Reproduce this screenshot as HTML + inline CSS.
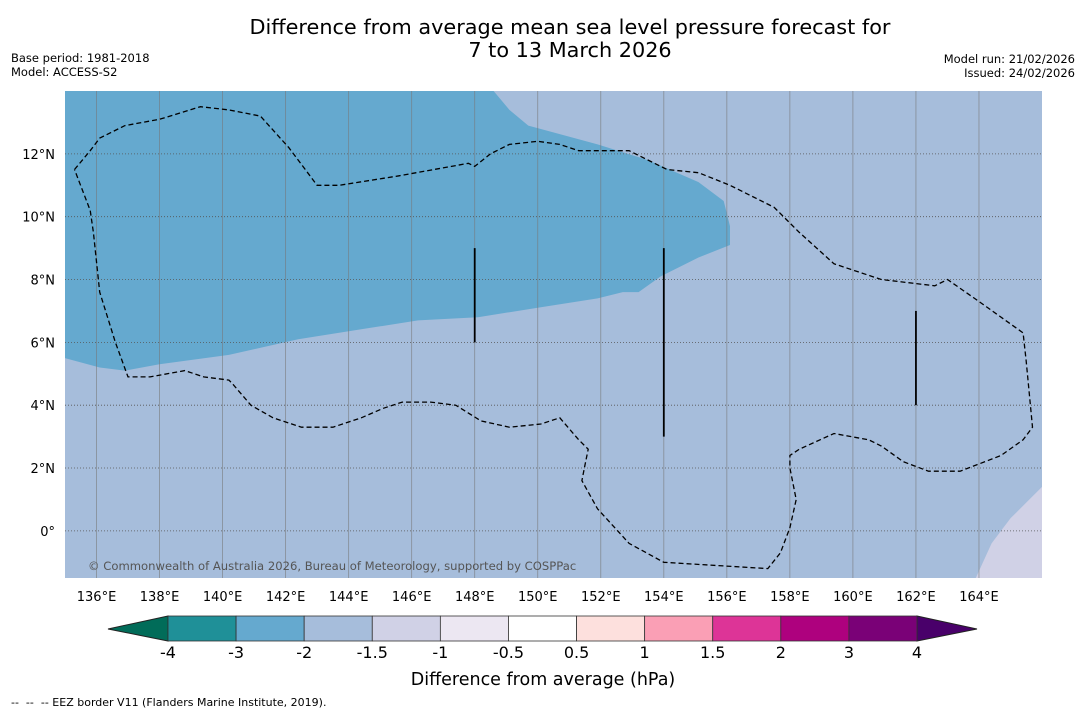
<!DOCTYPE html>
<html><head><meta charset="utf-8"><style>
body{margin:0;background:#fff;width:1085px;height:713px;overflow:hidden;font-family:"DejaVu Sans","Liberation Sans",sans-serif}
svg{display:block}
text{white-space:pre}
</style></head><body>
<svg id="c" width="1085" height="713" xmlns="http://www.w3.org/2000/svg">
<text x="570" y="34" font-size="20.8" text-anchor="middle">Difference from average mean sea level pressure forecast for</text>
<text x="570" y="57" font-size="20.8" text-anchor="middle">7 to 13 March 2026</text>
<text x="11" y="62" font-size="11.5">Base period: 1981-2018</text>
<text x="11" y="76" font-size="11.5">Model: ACCESS-S2</text>
<text x="1075" y="63" font-size="11.5" text-anchor="end">Model run: 21/02/2026</text>
<text x="1075" y="77" font-size="11.5" text-anchor="end">Issued: 24/02/2026</text>
<g id="map"></g>
<g id="cb"></g>
<text x="543" y="685" font-size="17.5" text-anchor="middle">Difference from average (hPa)</text>
<text x="11" y="706" font-size="11">--  --  -- EEZ border V11 (Flanders Marine Institute, 2019).</text>
</svg>
<script>
const lonTicks=[136,138,140,142,144,146,148,150,152,154,156,158,160,162,164];
const latTicks=[0,2,4,6,8,10,12];
const cbLevels=["-4","-3","-2","-1.5","-1","-0.5","0.5","1","1.5","2","3","4"];
const cbColors=["#1f9098","#65a9cf","#a6bddb","#d0d1e6","#ece7f2","#ffffff","#fde0dd","#fa9fb5","#dd3497","#ae017e","#7a0177"];
const blueRegion=[[135,14],[148.6,14],[149.1,13.4],[149.7,12.9],[151.9,12.3],[153.5,11.8],[155.1,11.1],[155.9,10.5],[156.1,9.7],[156.1,9.1],[155.1,8.7],[153.9,8.1],[153.2,7.6],[152.7,7.6],[151.9,7.4],[150,7.1],[148.1,6.8],[146.2,6.7],[144.3,6.4],[142.4,6.1],[140.2,5.6],[138,5.3],[136.9,5.1],[136.1,5.2],[135,5.5]];
const lavRegion=[[166,1.4],[165,0.4],[164.4,-0.4],[163.9,-1.5],[166,-1.5]];
const eez=[[135.3,11.5],[135.8,12.1],[136.1,12.5],[136.9,12.9],[138,13.1],[139.3,13.5],[140.2,13.4],[141.2,13.2],[142.1,12.2],[143,11],[143.7,11],[145.6,11.3],[147.8,11.7],[148,11.6],[148.5,12],[149.1,12.3],[150,12.4],[150.7,12.3],[151.3,12.1],[151.9,12.1],[152.9,12.1],[154.1,11.5],[155.1,11.4],[156.1,11],[157.5,10.3],[158.3,9.5],[159.4,8.5],[160.9,8],[162.6,7.8],[163,8],[164,7.3],[165.4,6.3],[165.5,5.4],[165.7,3.3],[165.4,2.9],[164.7,2.4],[163.4,1.9],[162.4,1.9],[161.6,2.2],[160.9,2.7],[160.5,2.9],[159.4,3.1],[158.3,2.6],[158,2.4],[158,2],[158.2,1],[158,0.1],[157.7,-0.7],[157.3,-1.2],[154,-1],[152.9,-0.4],[151.9,0.7],[151.4,1.6],[151.5,2.1],[151.6,2.6],[151.3,2.9],[150.7,3.6],[150.1,3.4],[149.1,3.3],[148.2,3.5],[147.4,4],[146.6,4.1],[145.7,4.1],[145.1,3.9],[144.4,3.6],[143.5,3.3],[142.5,3.3],[141.6,3.6],[140.9,4],[140.3,4.7],[140.2,4.8],[139.4,4.9],[138.8,5.1],[137.7,4.9],[137,4.9],[136.6,6],[136.1,7.6],[135.9,9.5],[135.8,10.2],[135.3,11.5]];
const boundaryLines=[[148,9,6],[154,9,3],[162,7,4]];
const X0=65,X1=1042,Y0=91,Y1=578,LON0=135,LON1=166,LAT0=-1.5,LAT1=14;
const xs=l=>X0+(l-LON0)/(LON1-LON0)*(X1-X0);
const ys=l=>Y0+(LAT1-l)/(LAT1-LAT0)*(Y1-Y0);
const NS="http://www.w3.org/2000/svg";
function mk(p,t,a){const e=document.createElementNS(NS,t);for(const k in a)e.setAttribute(k,a[k]);p.appendChild(e);return e;}
const map=document.getElementById('map');
let r=mk(map,'rect',{x:X0,y:Y0,width:X1-X0,height:Y1-Y0,fill:'#a6bddb'});


const pts=a=>a.map(p=>xs(p[0]).toFixed(1)+','+ys(p[1]).toFixed(1)).join(' ');
let b=mk(map,'polygon',{points:pts(blueRegion),fill:'#65a9cf'});


let lv=mk(map,'polygon',{points:pts(lavRegion),fill:'#d0d1e6'});


lonTicks.forEach(l=>{
 let g=mk(map,'line',{x1:xs(l),x2:xs(l),y1:Y0,y2:Y1,stroke:'#777',"stroke-width":0.8,opacity:0.7});
 
 
 let t=mk(map,'text',{x:xs(l),y:601,"font-size":13,"text-anchor":"middle"});t.textContent=l+'°E';
 
 
});
latTicks.forEach(l=>{
 let g=mk(map,'line',{x1:X0,x2:X1,y1:ys(l),y2:ys(l),stroke:'#555',"stroke-width":0.8,"stroke-dasharray":"1,2"});
 
 
 let t=mk(map,'text',{x:55,y:ys(l)+5,"font-size":13,"text-anchor":"end"});t.textContent=l===0?'0°':l+'°N';
 
 
});
let ez=mk(map,'polyline',{points:pts(eez),fill:'none',stroke:'#000',"stroke-width":1.3,"stroke-dasharray":"5,3"});


boundaryLines.forEach(d=>{
 let l=mk(map,'line',{x1:xs(d[0]),x2:xs(d[0]),y1:ys(d[1]),y2:ys(d[2]),stroke:'#000',"stroke-width":1.8});
 
 
});
let cp=mk(map,'text',{x:88,y:570,"font-size":11.6,fill:'#555'});cp.textContent='© Commonwealth of Australia 2026, Bureau of Meteorology, supported by COSPPac';


const cb=document.getElementById('cb');
const CX0=168,CX1=917,CY0=616,CY1=641,n=cbColors.length,w=(CX1-CX0)/n;
let lt=mk(cb,'polygon',{points:`108,629 ${CX0},${CY0} ${CX0},${CY1}`,fill:'#016c59',stroke:'#222',"stroke-width":1});


let rt=mk(cb,'polygon',{points:`977,629 ${CX1},${CY0} ${CX1},${CY1}`,fill:'#49006a',stroke:'#222',"stroke-width":1});


cbColors.forEach((c,i)=>{
 let s=mk(cb,'rect',{x:CX0+i*w,y:CY0,width:w,height:CY1-CY0,fill:c,stroke:'#333',"stroke-width":0.8});
 
 
});
cbLevels.forEach((v,i)=>{
 let t=mk(cb,'text',{x:CX0+i*w,y:658,"font-size":16,"text-anchor":"middle"});t.textContent=v;
 
 
});
</script>
</body></html>
